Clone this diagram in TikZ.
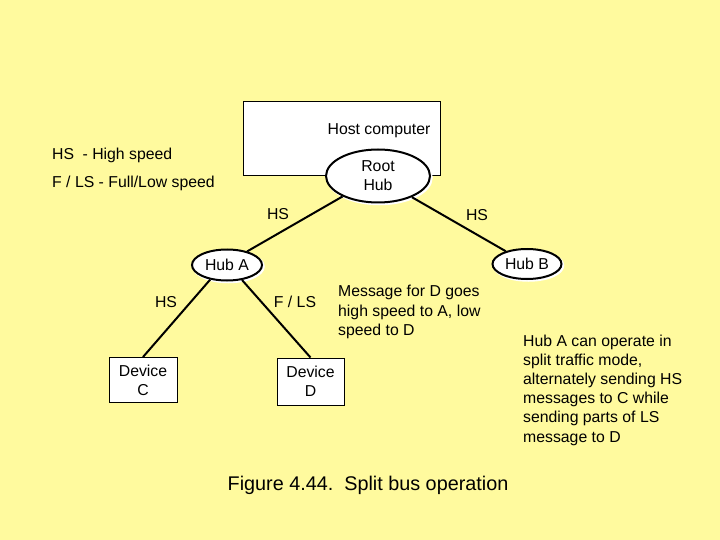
\documentclass[tikz,border=0pt]{standalone}
\usepackage{fontspec}
\setmainfont{Liberation Sans}
\usetikzlibrary{shapes.geometric}
\definecolor{bgyellow}{RGB}{255,250,158}
\tikzset{
  every node/.style={font=\fontsize{15.8}{19.2}\selectfont, inner sep=0pt},
  hub/.style={ellipse, draw, fill=white, line width=2pt,
    preaction={draw=white, line width=2.5pt, transform canvas={xshift=1.5pt,yshift=-1.5pt}}},
  box/.style={rectangle, draw, fill=white, line width=1pt, align=center},
  conn/.style={line width=2pt},
  lbl/.style={align=left}
}
\begin{document}
\begin{tikzpicture}[x=1pt,y=-1pt]
\fill[bgyellow] (0,0) rectangle (720,540);
\useasboundingbox (0,0) rectangle (720,540);

\node[box, minimum width=197pt, minimum height=74pt] (host) at (341.5,139) {};
\node (hosttext) at (379,131) {Host computer};

\node[hub, minimum width=104pt, minimum height=53pt, align=center] (root) at (378,176) {Root\\Hub};
\node[hub, minimum width=70pt, minimum height=31pt] (hubA) at (227,265) {Hub A};
\node[hub, minimum width=69pt, minimum height=30pt] (hubB) at (527,264) {Hub B};

\node[box, minimum width=68pt, minimum height=45pt] (devC) at (143,380) {Device\\C};
\node[box, minimum width=67pt, minimum height=47pt] (devD) at (310.5,381.5) {Device\\D};

\draw[conn] (root.210) -- (hubA.34);
\draw[conn] (root.328) -- (hubB.149);
\draw[conn] (hubA.221) -- (devC.north);
\draw[conn] (hubA.315) -- (devD.north);

\node (hs1) at (278,214) {HS};
\node (hs2) at (477,215) {HS};
\node (hs3) at (166,302) {HS};
\node (fls) at (295,302) {F / LS};

\node[anchor=west] (leg1) at (52,155) {HS\hspace{8.5pt}- High speed};
\node[anchor=west] (leg2) at (52,183) {F / LS - Full/Low speed};

\node[lbl, anchor=west] (msg) at (338,312) {Message for D goes\\high speed to A, low\\speed to D};
\node[lbl, anchor=west] (note) at (523,390) {Hub A can operate in\\split traffic mode,\\alternately sending HS\\messages to C while\\sending parts of LS\\message to D};

\node[font=\fontsize{19.8}{24}\selectfont] (cap) at (368,485) {Figure 4.44.\ \ Split bus operation};
\end{tikzpicture}
\end{document}
